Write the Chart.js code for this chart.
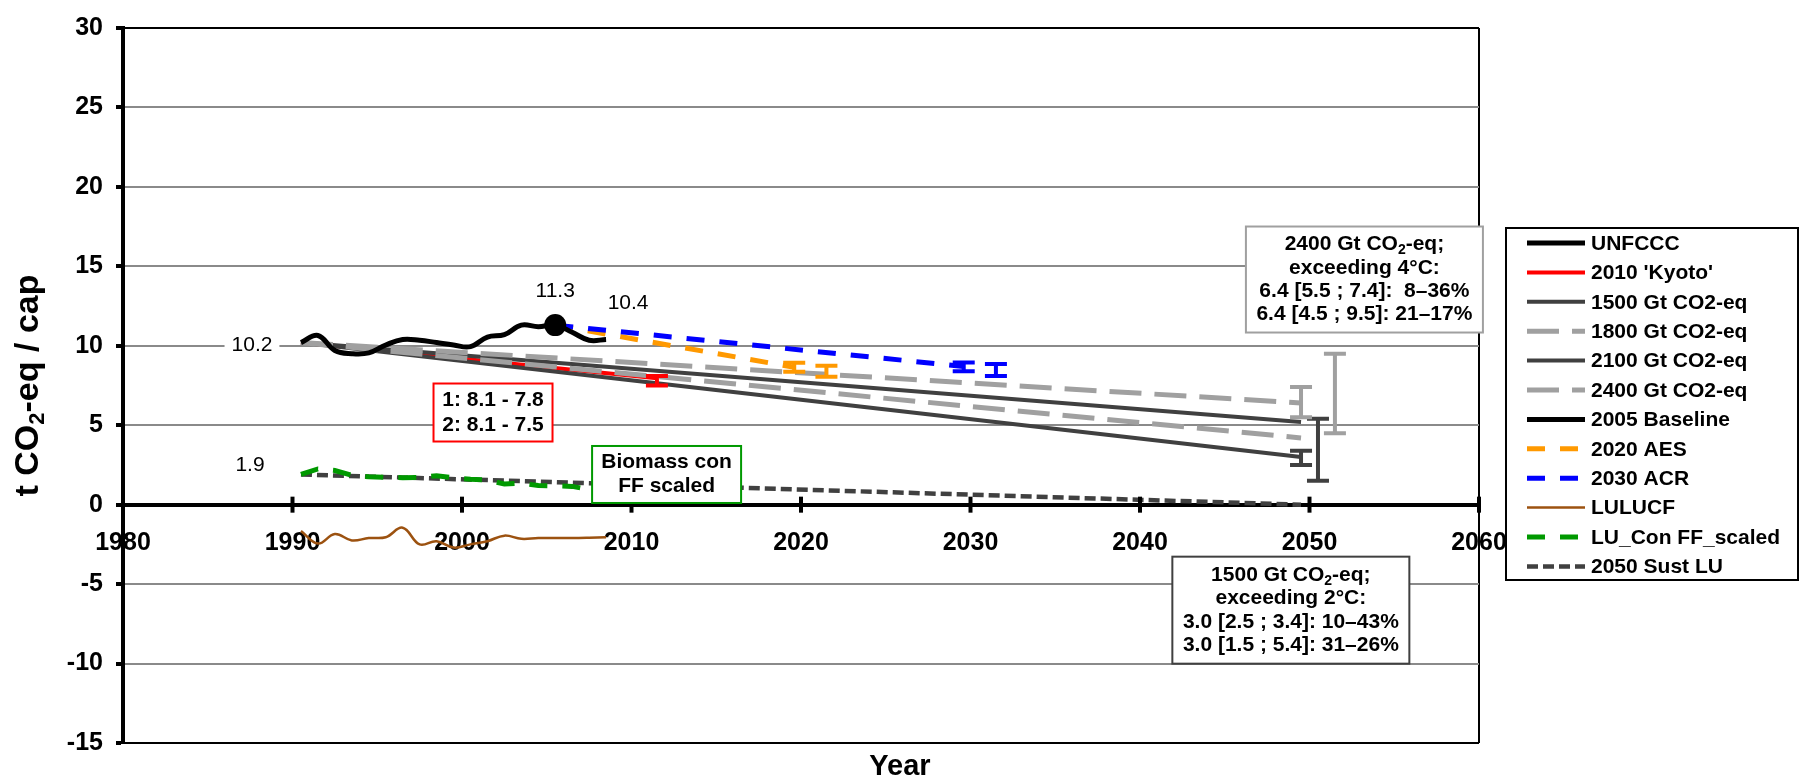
<!DOCTYPE html>
<html>
<head>
<meta charset="utf-8">
<script src="https://cdn.jsdelivr.net/npm/chart.js@4/dist/chart.umd.min.js"></script>
<style>
  html, body { margin: 0; padding: 0; background: #ffffff; }
  #wrap { width: 1799px; height: 782px; }
</style>
</head>
<body>
<div id="wrap"><canvas id="c" width="1799" height="782"></canvas></div>
<script>
// ---- Data (t CO2-eq per capita, mid-year positions) ----
const histYears = [1990.5, 1991.5, 1992.5, 1993.5, 1994.5, 1995.5, 1996.5, 1997.5, 1998.5, 1999.5,
                   2000.5, 2001.5, 2002.5, 2003.5, 2004.5, 2005.5, 2006.5, 2007.5, 2008.5];
const unfccc    = [10.2, 10.65, 9.7, 9.5, 9.55, 10.05, 10.4, 10.35, 10.2, 10.05,
                   9.95, 10.55, 10.7, 11.3, 11.2, 11.3, 10.85, 10.35, 10.4];
const lulucf    = [-1.65, -2.45, -1.85, -2.25, -2.1, -2.05, -1.45, -2.5, -2.3, -2.7,
                   -2.5, -2.3, -1.95, -2.15, -2.1, -2.1, -2.1, -2.08, -2.05];

const luConYears = [1990.5, 1991.5, 1992.5, 1993.5, 1994.5, 1995.5, 1996.5, 1997.5, 1998.5,
                    1999.5, 2000.5, 2001.5, 2002.5, 2003.5, 2004.5, 2005.5, 2006.5, 2007.5];
const luCon      = [1.9, 2.25, 2.15, 1.85, 1.75, 1.72, 1.7, 1.72, 1.82,
                    1.7, 1.6, 1.55, 1.3, 1.35, 1.2, 1.18, 1.15, 0.95];

const kyotoYears = [1990.5, 2011.5];
const kyoto      = [10.2, 7.95];
const kyotoBarYears = [2011.5];
const kyotoBarLow   = [7.5];
const kyotoBarHigh  = [8.1];

const pathYears = [1990.5, 2049.5];
const gt1500 = [10.2, 3.0];
const gt1800 = [10.2, 4.2];
const gt2100 = [10.2, 5.2];
const gt2400 = [10.2, 6.4];
const gt1500BarYears = [2049.5, 2050.5];
const gt1500BarLow   = [2.5, 1.5];
const gt1500BarHigh  = [3.4, 5.4];
const gt2400BarYears = [2049.5, 2051.5];
const gt2400BarLow   = [5.5, 4.5];
const gt2400BarHigh  = [7.4, 9.5];

const baselineYears = [2005.5];
const baseline      = [11.3];

const aesYears = [2005.5, 2019.6];
const aes      = [11.3, 8.65];
const aesBarYears = [2019.6, 2021.5];
const aesBarLow   = [8.36, 8.05];
const aesBarHigh  = [8.93, 8.75];

const acrYears = [2005.5, 2029.6];
const acr      = [11.3, 8.7];
const acrBarYears = [2029.6, 2031.5];
const acrBarLow   = [8.4, 8.1];
const acrBarHigh  = [8.95, 8.85];

const sustYears = [1990.5, 2049.5];
const sustLU    = [1.9, 0.0];

const xTicks = [1980, 1990, 2000, 2010, 2020, 2030, 2040, 2050, 2060];
const yTicks = [-15, -10, -5, 0, 5, 10, 15, 20, 25, 30];

// ---- Helpers ----
const FONT = "'Liberation Sans', Arial, Helvetica, sans-serif";
const xy = (xs, ys) => xs.map((x, i) => ({ x: x, y: ys[i] }));
const bars = (xs, lo, hi) => ({ x: xs, lo: lo, hi: hi });

const datasets = [
  { label: 'UNFCCC', data: xy(histYears, unfccc), borderColor: '#000000', borderWidth: 5, tension: 0.4, order: 2 },
  { label: "2010 'Kyoto'", data: xy(kyotoYears, kyoto), borderColor: '#ff0000', borderWidth: 4, order: 20,
    errorBars: bars(kyotoBarYears, kyotoBarLow, kyotoBarHigh) },
  { label: '1500 Gt CO2-eq', data: xy(pathYears, gt1500), borderColor: '#404040', borderWidth: 4, order: 15,
    errorBars: bars(gt1500BarYears, gt1500BarLow, gt1500BarHigh) },
  { label: '1800 Gt CO2-eq', data: xy(pathYears, gt1800), borderColor: '#a0a0a0', borderWidth: 5, borderDash: [32, 13], order: 13 },
  { label: '2100 Gt CO2-eq', data: xy(pathYears, gt2100), borderColor: '#404040', borderWidth: 4, order: 14 },
  { label: '2400 Gt CO2-eq', data: xy(pathYears, gt2400), borderColor: '#a0a0a0', borderWidth: 5, borderDash: [32, 13], order: 12,
    errorBars: bars(gt2400BarYears, gt2400BarLow, gt2400BarHigh) },
  { label: '2005 Baseline', data: xy(baselineYears, baseline), borderColor: '#000000', borderWidth: 5,
    pointRadius: 11, pointBackgroundColor: '#000000', pointBorderWidth: 0, order: 1 },
  { label: '2020 AES', data: xy(aesYears, aes), borderColor: '#ff9900', borderWidth: 5, borderDash: [18, 15], order: 6,
    errorBars: bars(aesBarYears, aesBarLow, aesBarHigh) },
  { label: '2030 ACR', data: xy(acrYears, acr), borderColor: '#0000ff', borderWidth: 5, borderDash: [18, 15], order: 5,
    errorBars: bars(acrBarYears, acrBarLow, acrBarHigh) },
  { label: 'LULUCF', data: xy(histYears, lulucf), borderColor: '#9c5210', borderWidth: 2.5, tension: 0.4, order: 8 },
  { label: 'LU_Con FF_scaled', data: xy(luConYears, luCon), borderColor: '#009900', borderWidth: 5, borderDash: [18, 15], order: 9 },
  { label: '2050 Sust LU', data: xy(sustYears, sustLU), borderColor: '#404040', borderWidth: 4.5, borderDash: [11, 5], order: 10 }
];
datasets.forEach(d => {
  if (d.pointRadius === undefined) d.pointRadius = 0;
  d.fill = false;
  d.borderCapStyle = 'butt';
});

// Draw mixed text runs (used for subscripts) centred on cx
function runs(ctx, segs, cx, cy) {
  const widths = segs.map(s => { ctx.font = s.font; return ctx.measureText(s.t).width; });
  let x = cx - widths.reduce((a, b) => a + b, 0) / 2;
  ctx.textAlign = 'left';
  segs.forEach((s, i) => { ctx.font = s.font; ctx.fillText(s.t, x, cy + (s.dy || 0)); x += widths[i]; });
}

function noteBox(ctx, cx, cy, w, h, stroke, lines, lineGap) {
  ctx.save();
  ctx.fillStyle = '#ffffff';
  ctx.fillRect(cx - w / 2, cy - h / 2, w, h);
  ctx.strokeStyle = stroke;
  ctx.lineWidth = 2;
  ctx.strokeRect(cx - w / 2, cy - h / 2, w, h);
  ctx.fillStyle = '#000000';
  ctx.textBaseline = 'middle';
  const y0 = cy - (lines.length - 1) * lineGap / 2;
  lines.forEach((segs, i) => runs(ctx, segs, cx, y0 + i * lineGap));
  ctx.restore();
}

const B21 = 'bold 21px ' + FONT;
const SUB = 'bold 14px ' + FONT;

const overlay = {
  id: 'overlay',
  afterDatasetsDraw(chart) {
    const ctx = chart.ctx, xs = chart.scales.x, ys = chart.scales.y;
    ctx.save();
    chart.data.datasets.forEach(d => {
      const eb = d.errorBars;
      if (!eb) return;
      ctx.strokeStyle = d.borderColor;
      ctx.lineWidth = 4;
      ctx.lineCap = 'butt';
      eb.x.forEach((xv, i) => {
        const px = xs.getPixelForValue(xv);
        const pl = ys.getPixelForValue(eb.lo[i]);
        const ph = ys.getPixelForValue(eb.hi[i]);
        ctx.beginPath();
        ctx.moveTo(px, pl); ctx.lineTo(px, ph);
        ctx.moveTo(px - 11, pl); ctx.lineTo(px + 11, pl);
        ctx.moveTo(px - 11, ph); ctx.lineTo(px + 11, ph);
        ctx.stroke();
      });
    });
    ctx.restore();
  },
  afterDraw(chart) {
    const ctx = chart.ctx, xs = chart.scales.x, ys = chart.scales.y, area = chart.chartArea;
    ctx.save();

    // tick marks crossing the zero axis
    const y0 = ys.getPixelForValue(0);
    ctx.strokeStyle = '#000000';
    ctx.lineWidth = 4;
    xTicks.forEach(v => {
      const px = xs.getPixelForValue(v);
      ctx.beginPath(); ctx.moveTo(px, y0 - 8); ctx.lineTo(px, y0 + 8); ctx.stroke();
    });

    // value labels
    const lab = (txt, xv, yv, dx, dy, bg) => {
      const px = xs.getPixelForValue(xv) + dx, py = ys.getPixelForValue(yv) + dy;
      ctx.font = '21px ' + FONT;
      ctx.textAlign = 'center';
      ctx.textBaseline = 'middle';
      if (bg) {
        const w = ctx.measureText(txt).width + 14;
        ctx.fillStyle = '#ffffff';
        ctx.fillRect(px - w / 2, py - 12, w, 24);
      }
      ctx.fillStyle = '#000000';
      ctx.fillText(txt, px, py);
    };
    lab(unfccc[0].toFixed(1), histYears[0], unfccc[0], -49, 3, true);
    lab(baseline[0].toFixed(1), baselineYears[0], baseline[0], 0, -34, false);
    lab(unfccc[unfccc.length - 1].toFixed(1), histYears[histYears.length - 1], unfccc[unfccc.length - 1], 22, -36, false);
    lab(sustLU[0].toFixed(1), sustYears[0], sustLU[0], -51, -9, false);

    // annotation boxes
    const at = (xv, yv) => [xs.getPixelForValue(xv), ys.getPixelForValue(yv)];
    let p = at(2001.83, 5.8);
    noteBox(ctx, p[0], p[1], 119, 58, '#ff0000',
      [[{ t: '1: 8.1 - 7.8', font: B21 }], [{ t: '2: 8.1 - 7.5', font: B21 }]], 25);
    p = at(2012.07, 1.9);
    noteBox(ctx, p[0], p[1], 149, 57, '#009900',
      [[{ t: 'Biomass con', font: B21 }], [{ t: 'FF scaled', font: B21 }]], 24);
    p = at(2053.24, 14.17);
    noteBox(ctx, p[0], p[1], 237, 106, '#a0a0a0', [
      [{ t: '2400 Gt CO', font: B21 }, { t: '2', font: SUB, dy: 6 }, { t: '-eq;', font: B21 }],
      [{ t: 'exceeding 4°C:', font: B21 }],
      [{ t: '6.4 [5.5 ; 7.4]:  8\u201336%', font: B21 }],
      [{ t: '6.4 [4.5 ; 9.5]: 21\u201317%', font: B21 }]], 23.3);
    p = at(2048.9, -6.64);
    noteBox(ctx, p[0], p[1], 237, 107, '#404040', [
      [{ t: '1500 Gt CO', font: B21 }, { t: '2', font: SUB, dy: 6 }, { t: '-eq;', font: B21 }],
      [{ t: 'exceeding 2°C:', font: B21 }],
      [{ t: '3.0 [2.5 ; 3.4]: 10\u201343%', font: B21 }],
      [{ t: '3.0 [1.5 ; 5.4]: 31\u201326%', font: B21 }]], 23.5);

    // legend
    const lg = { left: 1506, top: 228, right: 1798, bottom: 580, row0: 243, step: 29.4, l0: 1527, l1: 1585, tx: 1591 };
    ctx.fillStyle = '#ffffff';
    ctx.fillRect(lg.left, lg.top, lg.right - lg.left, lg.bottom - lg.top);
    ctx.strokeStyle = '#000000';
    ctx.lineWidth = 2;
    ctx.strokeRect(lg.left, lg.top, lg.right - lg.left, lg.bottom - lg.top);
    chart.data.datasets.forEach((d, i) => {
      const yy = lg.row0 + i * lg.step;
      ctx.save();
      ctx.strokeStyle = d.borderColor;
      ctx.lineWidth = d.borderWidth;
      ctx.setLineDash(d.borderDash || []);
      ctx.beginPath(); ctx.moveTo(lg.l0, yy); ctx.lineTo(lg.l1, yy); ctx.stroke();
      ctx.restore();
      ctx.fillStyle = '#000000';
      ctx.font = B21;
      ctx.textAlign = 'left';
      ctx.textBaseline = 'middle';
      ctx.fillText(d.label, lg.tx, yy + 1);
    });

    // axis titles
    ctx.fillStyle = '#000000';
    ctx.textBaseline = 'middle';
    ctx.save();
    ctx.translate(29, (area.top + area.bottom) / 2);
    ctx.rotate(-Math.PI / 2);
    runs(ctx, [{ t: 't CO', font: 'bold 34px ' + FONT }, { t: '2', font: 'bold 22px ' + FONT, dy: 9 },
               { t: '-eq / cap', font: 'bold 34px ' + FONT }], 0, 0);
    ctx.restore();
    ctx.font = 'bold 29px ' + FONT;
    ctx.textAlign = 'center';
    ctx.fillText('Year', 900, 767);
    ctx.restore();
  }
};

new Chart(document.getElementById('c'), {
  type: 'line',
  data: { datasets: datasets },
  options: {
    responsive: false,
    animation: false,
    devicePixelRatio: 1,
    layout: { padding: { left: 0, top: 22, right: 320, bottom: 39 } },
    plugins: { legend: { display: false }, tooltip: { enabled: false } },
    scales: {
      x: {
        type: 'linear', min: xTicks[0], max: xTicks[xTicks.length - 1], position: { y: 0 },
        afterBuildTicks: s => { s.ticks = xTicks.map(v => ({ value: v })); },
        ticks: { color: '#000000', font: { family: FONT, size: 25, weight: 'bold' }, padding: 23,
                 maxRotation: 0, autoSkip: false, callback: v => String(v) },
        grid: { drawTicks: false, lineWidth: 2,
                color: c => (c.tick && c.tick.value === 2060) ? '#000000' : 'rgba(0,0,0,0)' },
        border: { color: '#000000', width: 4 }
      },
      y: {
        type: 'linear', min: yTicks[0], max: yTicks[yTicks.length - 1],
        afterBuildTicks: s => { s.ticks = yTicks.map(v => ({ value: v })); },
        afterFit: s => { s.width = 123; },
        ticks: { color: '#000000', font: { family: FONT, size: 25, weight: 'bold' }, padding: 13,
                 callback: v => String(v) },
        grid: { lineWidth: 2, tickLength: 7, tickColor: '#000000', tickWidth: 4,
                color: c => {
                  const v = c.tick ? c.tick.value : null;
                  if (v === 30 || v === -15) return '#000000';
                  if (v === 0) return 'rgba(0,0,0,0)';
                  return '#8a8a8a';
                } },
        border: { color: '#000000', width: 4 }
      }
    }
  },
  plugins: [overlay]
});
</script>
</body>
</html>
